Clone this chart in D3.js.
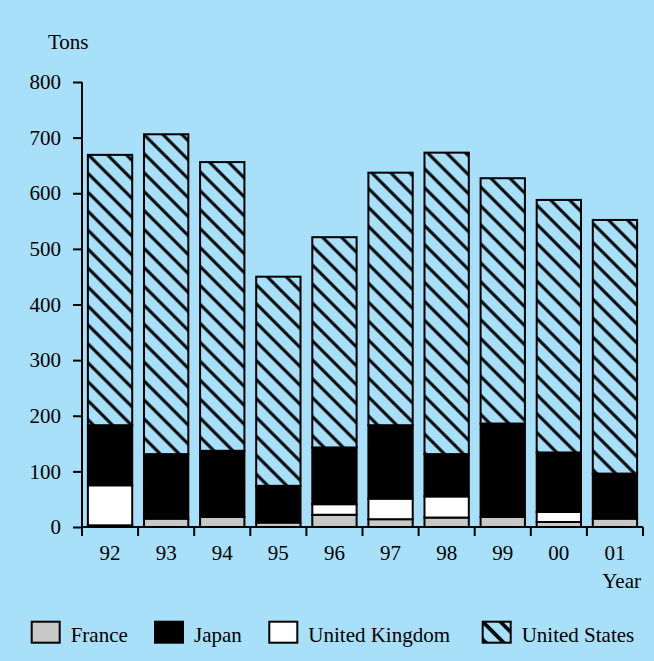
<!DOCTYPE html>
<html><head><meta charset="utf-8">
<script src="https://cdn.jsdelivr.net/npm/d3@7"></script>
<style>html,body{margin:0;padding:0;background:#a8dff9;}svg{display:block;}</style>
</head><body>
<script>
const years = ["92","93","94","95","96","97","98","99","00","01"];
const france = [3, 15, 18, 8, 22, 14, 17, 18, 9, 15];
const japan = [108, 116, 119, 66, 102, 132, 76, 168, 107, 81];
const uk = [72, 0, 0, 0, 19, 37, 38, 0, 18, 0];
const us = [486, 575, 519, 376, 378, 454, 542, 441, 454, 456];
const seriesNames = ["France", "Japan", "United Kingdom", "United States"];
const stackOrder = ["France", "United Kingdom", "Japan", "United States"];
const yTicks = [0, 100, 200, 300, 400, 500, 600, 700, 800];

(function(){
const W = 654, H = 661;
const bg = "#a8dff9";
const svg = d3.select("body").append("svg").attr("width", W).attr("height", H);
svg.append("rect").attr("width", W).attr("height", H).attr("fill", bg);

const defs = svg.append("defs");
const pat = defs.append("pattern").attr("id", "hatch").attr("patternUnits", "userSpaceOnUse")
  .attr("width", 13.4).attr("height", 13.4).attr("patternTransform", "rotate(-45)");
pat.append("rect").attr("width", 13.4).attr("height", 13.4).attr("fill", bg);
pat.append("line").attr("x1", 6.7).attr("y1", 0).attr("x2", 6.7).attr("y2", 13.4)
  .attr("stroke", "#000").attr("stroke-width", 3);
// larger hatch for the legend swatch
const pat2 = defs.append("pattern").attr("id", "hatchLeg").attr("patternUnits", "userSpaceOnUse")
  .attr("width", 12.5).attr("height", 12.5).attr("patternTransform", "translate(482.7,621.7) rotate(-45)");
pat2.append("rect").attr("width", 12.5).attr("height", 12.5).attr("fill", bg);
pat2.selectAll(null).data([0, 12.5]).enter().append("line")
  .attr("x1", d => d).attr("y1", 0).attr("x2", d => d).attr("y2", 12.5)
  .attr("stroke", "#000").attr("stroke-width", 3.6);

const fillOf = {"France": "#c8c8c8", "Japan": "#000000", "United Kingdom": "#ffffff", "United States": "url(#hatch)"};
const legFill = {"France": "#c8c8c8", "Japan": "#000000", "United Kingdom": "#ffffff", "United States": "url(#hatchLeg)"};
const font = "'Liberation Serif','Times New Roman',serif";
const fs = 21;

const mLeft = 82, mRight = 643, mTop = 82, mBottom = 527;
const x = d3.scaleBand().domain(years).range([mLeft, mRight]).paddingInner(0.21).paddingOuter(0.105);
const y = d3.scaleLinear().domain([0, 800]).range([mBottom, mTop]);

const table = years.map((yr, i) => ({year: yr, France: france[i], Japan: japan[i], "United Kingdom": uk[i], "United States": us[i]}));
const stack = d3.stack().keys(stackOrder)(table);

const g = svg.append("g");
stack.forEach(layer => {
  g.selectAll(null).data(layer.filter(d => d[1] - d[0] > 0)).enter().append("rect")
    .attr("x", d => x(d.data.year))
    .attr("width", x.bandwidth())
    .attr("y", d => y(d[1]))
    .attr("height", d => y(d[0]) - y(d[1]))
    .attr("fill", fillOf[layer.key])
    .attr("stroke", "#000").attr("stroke-width", 2);
});

// Y axis
const yAxis = d3.axisLeft(y).tickValues(yTicks).tickSize(9).tickPadding(12);
const ya = svg.append("g").attr("transform", `translate(${mLeft},0)`).call(yAxis);
ya.select(".domain").attr("stroke", "#000").attr("stroke-width", 2).attr("d", `M0,${mTop}V${mBottom}`);
ya.selectAll(".tick line").attr("stroke", "#000").attr("stroke-width", 2);
ya.selectAll(".tick text").attr("font-family", font).attr("font-size", fs).attr("fill", "#000");

// X axis with ticks at band boundaries
const xa = svg.append("g").attr("transform", `translate(0,${mBottom})`);
xa.append("line").attr("x1", mLeft).attr("x2", mRight).attr("stroke", "#000").attr("stroke-width", 2);
const step = x.step();
const b0 = x(years[0]) - (step - x.bandwidth()) / 2;
xa.selectAll(null).data(d3.range(years.length + 1)).enter().append("line")
  .attr("x1", i => b0 + i * step).attr("x2", i => b0 + i * step)
  .attr("y1", 0).attr("y2", 9).attr("stroke", "#000").attr("stroke-width", 2);
xa.selectAll(null).data(years).enter().append("text")
  .attr("x", d => x(d) + x.bandwidth() / 2).attr("y", 33)
  .attr("text-anchor", "middle").attr("font-family", font).attr("font-size", fs).text(d => d);

svg.append("text").attr("x", 48).attr("y", 49).attr("font-family", font).attr("font-size", fs).text("Tons");
svg.append("text").attr("x", 641).attr("y", 588).attr("text-anchor", "end").attr("font-family", font).attr("font-size", fs).text("Year");

// Legend
const legX = [31.7, 155, 269.3, 482.7];
const leg = svg.append("g");
seriesNames.forEach((s, i) => {
  leg.append("rect").attr("x", legX[i]).attr("y", 621.7).attr("width", 28).attr("height", 21)
    .attr("fill", legFill[s]).attr("stroke", "#000").attr("stroke-width", 2);
  leg.append("text").attr("x", legX[i] + 39).attr("y", 641.5).attr("font-family", font).attr("font-size", fs).text(s);
});
})();
</script>
</body></html>
